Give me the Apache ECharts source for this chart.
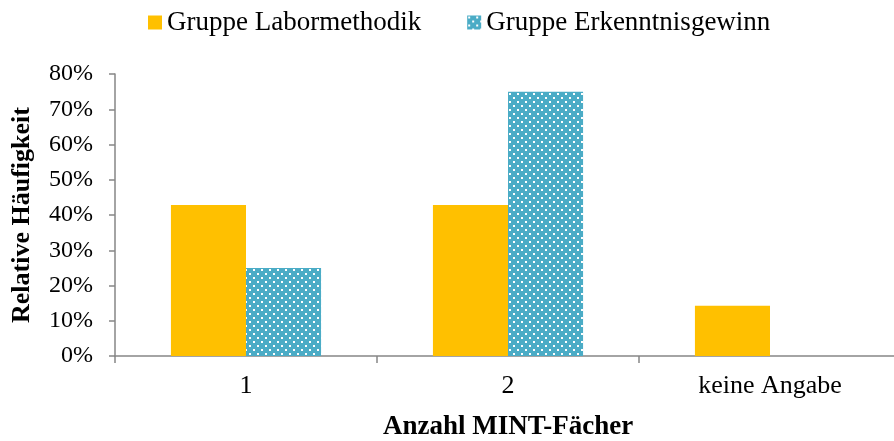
<!DOCTYPE html>
<html>
<head>
<meta charset="utf-8">
<script src="https://cdn.jsdelivr.net/npm/echarts@6/dist/echarts.min.js"></script>
<style>
  html, body { margin: 0; padding: 0; background: #fff; overflow: hidden; }
  #chart { width: 894px; height: 441px; }
</style>
</head>
<body>
<div id="chart"></div>
<script>
// Kategorien und Werte (relative Häufigkeit in %)
const categories = ["1", "2", "keine Angabe"];
const labormethodik = [42.86, 42.86, 14.29];
const erkenntnisgewinn = [25, 75, 0];
const seriesNames = ["Gruppe Labormethodik", "Gruppe Erkenntnisgewinn"];

// gepunktetes Muster für die zweite Gruppe
function dotPattern() {
  const c = document.createElement("canvas");
  c.width = 8;
  c.height = 8;
  const ctx = c.getContext("2d");
  ctx.fillStyle = "#4BACC6";
  ctx.fillRect(0, 0, 8, 8);
  ctx.fillStyle = "#ffffff";
  ctx.fillRect(1, 1, 2, 2);
  ctx.fillRect(5, 5, 2, 2);
  return c;
}

const font = "'Liberation Serif', 'Times New Roman', serif";
const chart = echarts.init(document.getElementById("chart"));

const option = {
  animation: false,
  textStyle: { fontFamily: font, color: "#000" },
  legend: {
    top: 4,
    left: 143,
    icon: "rect",
    itemWidth: 14,
    itemHeight: 14,
    itemGap: 46,
    textStyle: { fontFamily: font, fontSize: 27, color: "#000" },
    data: seriesNames,
  },
  grid: {
    left: 115,
    right: -7,
    top: 74,
    bottom: 85,
    outerBoundsMode: "none",
  },
  xAxis: {
    type: "category",
    data: categories,
    name: "Anzahl MINT-Fächer",
    nameLocation: "middle",
    nameGap: 58,
    nameTextStyle: { fontFamily: font, fontSize: 27, fontWeight: "bold", color: "#000" },
    axisLine: { lineStyle: { color: "#868686", width: 1.5 } },
    axisTick: { show: true, length: 7, lineStyle: { color: "#868686", width: 1.5 } },
    axisLabel: { fontFamily: font, fontSize: 26, color: "#000", margin: 17 },
  },
  yAxis: {
    type: "value",
    min: 0,
    max: 80,
    interval: 10,
    name: "Relative Häufigkeit",
    nameLocation: "middle",
    nameGap: 80,
    nameTextStyle: { fontFamily: font, fontSize: 26, fontWeight: "bold", color: "#000" },
    axisLine: { show: true, lineStyle: { color: "#868686", width: 1.5 } },
    axisTick: { show: true, length: 6, lineStyle: { color: "#868686", width: 1.5 } },
    splitLine: { show: false },
    axisLabel: {
      fontFamily: font,
      fontSize: 24,
      color: "#000",
      margin: 22,
      formatter: "{value}%",
    },
  },
  series: [
    {
      name: seriesNames[0],
      type: "bar",
      data: labormethodik,
      barGap: "0%",
      barCategoryGap: "42.7%",
      itemStyle: { color: "#FFC000" },
    },
    {
      name: seriesNames[1],
      type: "bar",
      data: erkenntnisgewinn,
      itemStyle: { color: { image: dotPattern(), repeat: "repeat" } },
    },
  ],
};

chart.setOption(option);
</script>
</body>
</html>
